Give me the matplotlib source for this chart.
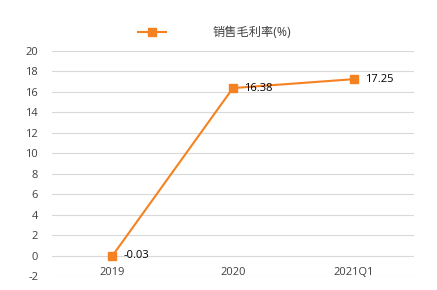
import matplotlib
matplotlib.use("Agg")
import matplotlib.pyplot as plt

plt.rcParams['font.family'] = ['Open Sans', 'Noto Sans CJK SC', 'DejaVu Sans']

categories = ["2019", "2020", "2021Q1"]
values = [-0.03, 16.38, 17.25]
labels = ["-0.03", "16.38", "17.25"]
series_name = "销售毛利率(%)"
yticks = list(range(-2, 21, 2))

color = "#F58220"
text_color = "#404040"

fig = plt.figure(figsize=(4.37, 2.90), dpi=100)
ax = fig.add_axes([0.119, 0.048, 0.828, 0.776])
x = list(range(len(categories)))
line, = ax.plot(x, values, color=color, lw=1.5, marker='s', markersize=6,
                markerfacecolor=color, markeredgecolor=color, label=series_name)
for xi, v, lab in zip(x, values, labels):
    ax.annotate(lab, (xi, v), xytext=(8, 0), textcoords='offset points',
                va='center', ha='left', fontsize=8, color='black')

ax.set_xlim(-0.5, len(categories) - 0.5)
ax.set_ylim(-2, 20)
ax.set_yticks(yticks)
ax.set_yticklabels([str(t) for t in yticks], fontsize=8, color=text_color)
ax.yaxis.grid(True, color='#D9D9D9', lw=0.8)
ax.set_axisbelow(True)
for s in ax.spines.values():
    s.set_visible(False)
ax.tick_params(axis='y', length=0, pad=10)
ax.spines['bottom'].set_position(('data', 0))
ax.set_xticks(x)
ax.set_xticklabels(categories, fontsize=8, color=text_color)
ax.tick_params(axis='x', length=0, pad=8)

leg = fig.legend(handles=[line], loc='center', bbox_to_anchor=(0.49, 0.887),
                 frameon=False, fontsize=8.8, handlelength=2.3, handletextpad=3.8)
for t in leg.get_texts():
    t.set_color(text_color)

fig.savefig("out.png", dpi=100)
